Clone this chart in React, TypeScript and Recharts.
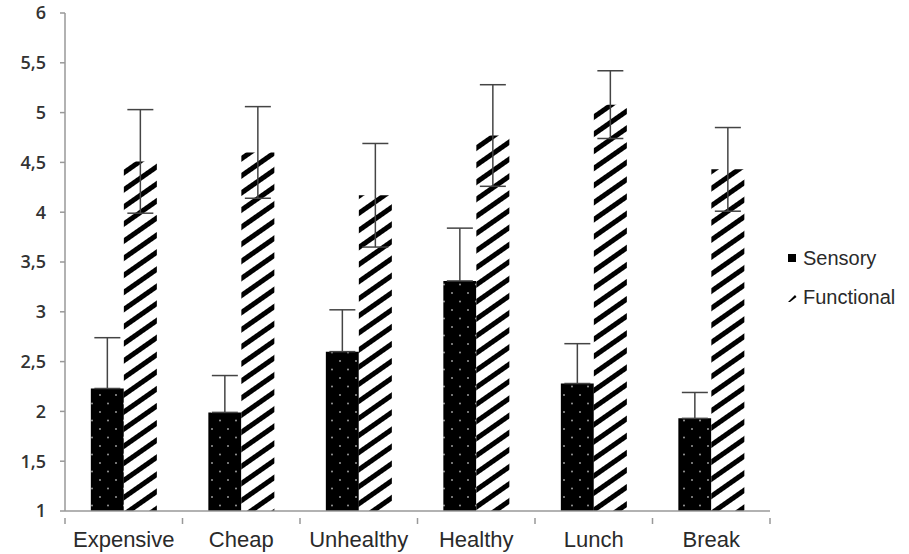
import React from "react";
import { BarChart, Bar, XAxis, YAxis, ErrorBar } from "recharts";

const categories = ["Expensive", "Cheap", "Unhealthy", "Healthy", "Lunch", "Break"];
const sensory = [2.23, 1.99, 2.6, 3.31, 2.28, 1.93];
const sensoryErr = [0.51, 0.37, 0.42, 0.53, 0.4, 0.26];
const functional = [4.51, 4.6, 4.17, 4.77, 5.08, 4.43];
const functionalErr = [0.52, 0.46, 0.52, 0.51, 0.34, 0.42];
const yTicks = [1, 1.5, 2, 2.5, 3, 3.5, 4, 4.5, 5, 5.5, 6];
const seriesNames = ["Sensory", "Functional"];

// the lower half of the sensory whiskers is hidden by the black bars, so only draw the upper half
const data = categories.map((name, i) => ({
  name,
  sensory: sensory[i],
  sensoryErr: [0, sensoryErr[i]],
  functional: functional[i],
  functionalErr: functionalErr[i],
}));

const W = 909;
const H = 554;
const margin = { top: 13, right: 139, left: 0, bottom: 13 };
const yAxisWidth = 65;
const half = (W - margin.right - yAxisWidth) / categories.length / 2;
const font = "Liberation Sans, Arial, sans-serif";

function XTick(props: any) {
  const { x, y, payload, index } = props;
  const last = index === categories.length - 1;
  return (
    <g>
      <line x1={x - half} y1={y - 1} x2={x - half} y2={y + 5} stroke="#999" strokeWidth={1.5} />
      {last && <line x1={x + half} y1={y - 1} x2={x + half} y2={y + 5} stroke="#999" strokeWidth={1.5} />}
      <text x={x} y={y + 28} textAnchor="middle" fontSize={22} fill="#2a2a2a" fontFamily={font}>
        {payload.value}
      </text>
    </g>
  );
}

function LegendBox() {
  const row = { position: "absolute" as const, left: 785, height: 24, display: "flex", alignItems: "center" };
  return (
    <div style={{ fontFamily: font, fontSize: 20, color: "#2a2a2a" }}>
      <div style={{ ...row, top: 246 }}>
        <svg width={18} height={12}>
          <rect x={3} y={2} width={8} height={8} fill="#000" />
        </svg>
        <span>{seriesNames[0]}</span>
      </div>
      <div style={{ ...row, top: 285 }}>
        <svg width={18} height={12}>
          <path d="M3 11 L10 4 L11.5 6 L5 11 Z" fill="#000" />
        </svg>
        <span>{seriesNames[1]}</span>
      </div>
    </div>
  );
}

export default function App() {
  return (
    <div style={{ position: "absolute", left: 0, top: 0, width: W, height: H, background: "#fff" }}>
      <BarChart width={W} height={H} data={data} margin={margin} barGap={0} barCategoryGap="22%">
        <defs>
          <pattern id="dots" patternUnits="userSpaceOnUse" width={16} height={17}>
            <rect width={16} height={17} fill="#000" />
            <circle cx={4} cy={4} r={1} fill="#999" />
            <circle cx={12} cy={12.5} r={1} fill="#999" />
          </pattern>
          <pattern id="stripes" patternUnits="userSpaceOnUse" width={14} height={14} patternTransform="rotate(-35)">
            <rect width={14} height={14} fill="#fff" />
            <rect y={0} width={14} height={5} fill="#000" />
          </pattern>
        </defs>
        <XAxis
          dataKey="name"
          tickLine={false}
          axisLine={{ stroke: "#999", strokeWidth: 1.5 }}
          tick={<XTick />}
          height={30}
          interval={0}
        />
        <YAxis
          domain={[1, 6]}
          ticks={yTicks}
          width={yAxisWidth}
          tickSize={5}
          tickMargin={14}
          axisLine={{ stroke: "#999", strokeWidth: 1.5 }}
          tickLine={{ stroke: "#999", strokeWidth: 1.5 }}
          tick={{ fontSize: 18, fill: "#333", fontWeight: 600, fontFamily: "Open Sans, sans-serif" }}
          tickFormatter={(v: number) => String(v).replace(".", ",")}
          allowDataOverflow
        />
        <Bar dataKey="sensory" name={seriesNames[0]} fill="url(#dots)" isAnimationActive={false}>
          <ErrorBar dataKey="sensoryErr" width={13} stroke="#444" strokeWidth={1.5} />
        </Bar>
        <Bar dataKey="functional" name={seriesNames[1]} fill="url(#stripes)" isAnimationActive={false}>
          <ErrorBar dataKey="functionalErr" width={13} stroke="#444" strokeWidth={1.5} />
        </Bar>
      </BarChart>
      <LegendBox />
    </div>
  );
}
